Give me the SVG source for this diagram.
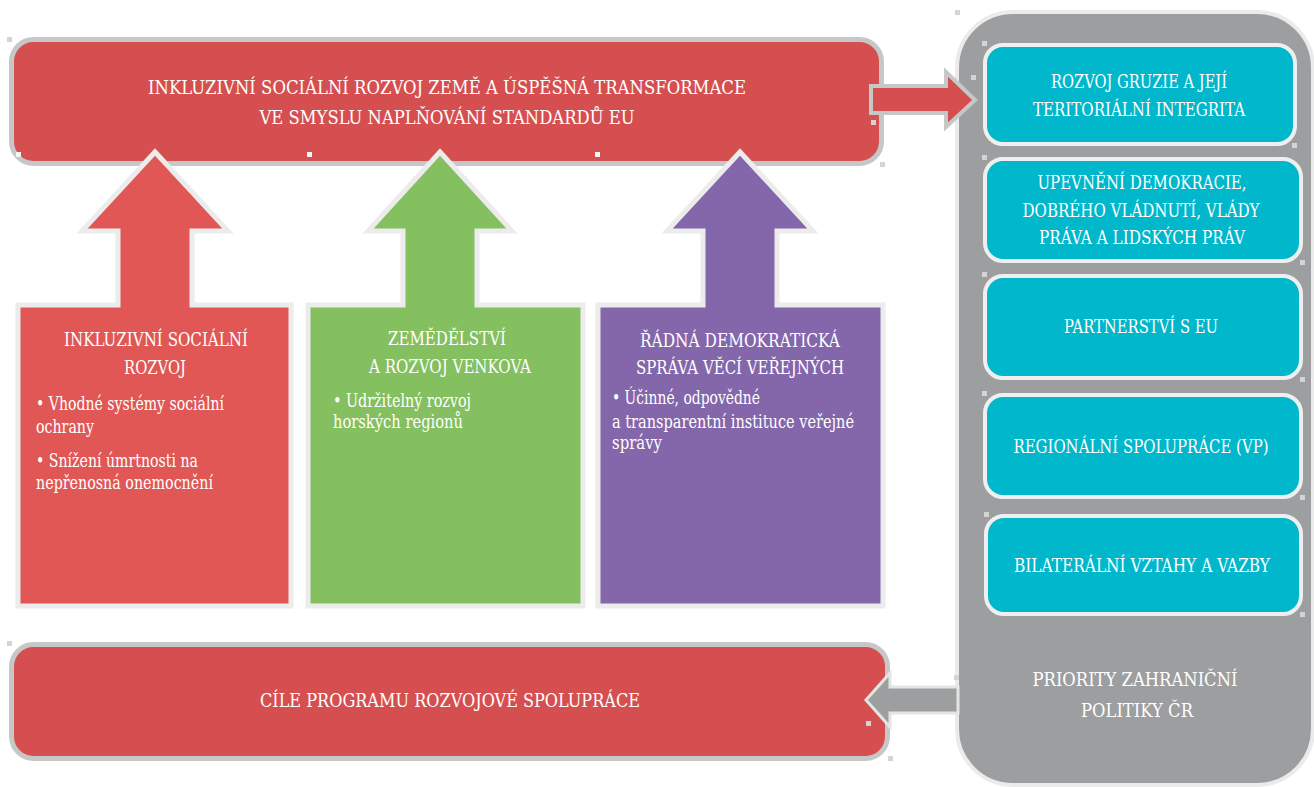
<svg xmlns="http://www.w3.org/2000/svg" width="1314" height="787" viewBox="0 0 1314 787">
<style>
  text { font-family: "DejaVu Serif Condensed", "DejaVu Serif", "Liberation Serif", serif; font-stretch: condensed; fill: #ffffff; font-size: 18.5px; }
  .c { text-anchor: middle; }
  .hdl { fill: #d4d4d4; }
  .hdlw { fill: #f4f4f4; }
  .bigbox { fill: #d64f50; stroke: #c6c7c7; stroke-width: 5; }
  .cyan { fill: #00b7cb; stroke: #efefef; stroke-width: 4; }
  .up { stroke: #ececec; stroke-width: 5; stroke-linejoin: miter; }
</style>
<rect width="1314" height="787" fill="#ffffff"/>

<g id="panel">
  <rect x="957" y="12" width="356" height="773" rx="56" ry="56" fill="#9d9ea0" stroke="#ebebeb" stroke-width="4"/>
  <text class="c" x="1135" y="686" textLength="205" lengthAdjust="spacingAndGlyphs">PRIORITY ZAHRANIČNÍ</text>
  <text class="c" x="1137" y="717" textLength="112" lengthAdjust="spacingAndGlyphs">POLITIKY ČR</text>
</g>

<g id="top-goal">
  <rect class="bigbox" x="11.5" y="39.5" width="870" height="124" rx="22" ry="22"/>
  <text class="c" x="447" y="94" textLength="598" lengthAdjust="spacingAndGlyphs">INKLUZIVNÍ SOCIÁLNÍ ROZVOJ ZEMĚ A ÚSPĚŠNÁ TRANSFORMACE</text>
  <text class="c" x="447" y="124" textLength="375" lengthAdjust="spacingAndGlyphs">VE SMYSLU NAPLŇOVÁNÍ STANDARDŮ EU</text>
</g>

<g id="bottom-goal">
  <rect class="bigbox" x="11.5" y="644.5" width="876" height="114" rx="22" ry="22"/>
  <text class="c" x="450" y="707" textLength="380" lengthAdjust="spacingAndGlyphs">CÍLE PROGRAMU ROZVOJOVÉ SPOLUPRÁCE</text>
</g>

<g id="connectors">
  <polygon points="871,86 946,86 946,72 975,100 946,127 946,113 871,113" fill="#d64f50" stroke="#c6c7c7" stroke-width="4" stroke-linejoin="miter"/>
  <polygon points="958,687 890,687 890,673 866,700 890,727 890,713 958,713" fill="#9d9ea0" stroke="#e3e5e3" stroke-width="3" stroke-linejoin="miter"/>
</g>

<g id="pillar-social">
  <polygon class="up" fill="#e05755" points="18,305 118,305 118,231 82,231 155,152 228,231 192,231 192,305 291,305 291,606 18,606"/>
  <text class="c" x="156" y="346" textLength="184" lengthAdjust="spacingAndGlyphs">INKLUZIVNÍ SOCIÁLNÍ</text>
  <text class="c" x="155" y="374" textLength="62" lengthAdjust="spacingAndGlyphs">ROZVOJ</text>
  <text x="36" y="410" textLength="188" lengthAdjust="spacingAndGlyphs">• Vhodné systémy sociální</text>
  <text x="36" y="433" textLength="58" lengthAdjust="spacingAndGlyphs">ochrany</text>
  <text x="36" y="467" textLength="162" lengthAdjust="spacingAndGlyphs">• Snížení úmrtnosti na</text>
  <text x="36" y="489" textLength="177" lengthAdjust="spacingAndGlyphs">nepřenosná onemocnění</text>
</g>

<g id="pillar-agri">
  <polygon class="up" fill="#84c060" points="308,305 403,305 403,231 368,231 440,152 512,231 477,231 477,305 583,305 583,606 308,606"/>
  <text class="c" x="447" y="345" textLength="118" lengthAdjust="spacingAndGlyphs">ZEMĚDĚLSTVÍ</text>
  <text class="c" x="450" y="373" textLength="162" lengthAdjust="spacingAndGlyphs">A ROZVOJ VENKOVA</text>
  <text x="333" y="407" textLength="138" lengthAdjust="spacingAndGlyphs">• Udržitelný rozvoj</text>
  <text x="333" y="428" textLength="130" lengthAdjust="spacingAndGlyphs">horských regionů</text>
</g>

<g id="pillar-governance">
  <polygon class="up" fill="#8466aa" points="598,305 703,305 703,231 667,231 740,152 813,231 777,231 777,305 883,305 883,606 598,606"/>
  <text class="c" x="740" y="347" textLength="200" lengthAdjust="spacingAndGlyphs">ŘÁDNÁ DEMOKRATICKÁ</text>
  <text class="c" x="740" y="374" textLength="208" lengthAdjust="spacingAndGlyphs">SPRÁVA VĚCÍ VEŘEJNÝCH</text>
  <text x="612" y="404" textLength="148" lengthAdjust="spacingAndGlyphs">• Účinné, odpovědné</text>
  <text x="612" y="428" textLength="242" lengthAdjust="spacingAndGlyphs">a transparentní instituce veřejné</text>
  <text x="612" y="449" textLength="50" lengthAdjust="spacingAndGlyphs">správy</text>
</g>

<g id="priority-1">
  <rect class="cyan" x="985" y="45" width="310" height="99" rx="18" ry="18"/>
  <text class="c" x="1139" y="88" textLength="176" lengthAdjust="spacingAndGlyphs">ROZVOJ GRUZIE A JEJÍ</text>
  <text class="c" x="1139" y="116" textLength="212" lengthAdjust="spacingAndGlyphs">TERITORIÁLNÍ INTEGRITA</text>
</g>
<g id="priority-2">
  <rect class="cyan" x="985" y="159" width="316" height="102" rx="18" ry="18"/>
  <text class="c" x="1142" y="189" textLength="209" lengthAdjust="spacingAndGlyphs">UPEVNĚNÍ DEMOKRACIE,</text>
  <text class="c" x="1141" y="217" textLength="237" lengthAdjust="spacingAndGlyphs">DOBRÉHO VLÁDNUTÍ, VLÁDY</text>
  <text class="c" x="1142" y="244" textLength="206" lengthAdjust="spacingAndGlyphs">PRÁVA A LIDSKÝCH PRÁV</text>
</g>
<g id="priority-3">
  <rect class="cyan" x="985" y="276" width="316" height="102" rx="18" ry="18"/>
  <text class="c" x="1141" y="333" textLength="154" lengthAdjust="spacingAndGlyphs">PARTNERSTVÍ S EU</text>
</g>
<g id="priority-4">
  <rect class="cyan" x="985" y="395" width="316" height="102" rx="18" ry="18"/>
  <text class="c" x="1141" y="453" textLength="255" lengthAdjust="spacingAndGlyphs">REGIONÁLNÍ SPOLUPRÁCE (VP)</text>
</g>
<g id="priority-5">
  <rect class="cyan" x="986" y="516" width="315" height="98" rx="18" ry="18"/>
  <text class="c" x="1142" y="572" textLength="256" lengthAdjust="spacingAndGlyphs">BILATERÁLNÍ VZTAHY A VAZBY</text>
</g>

<g id="handles">
  <rect class="hdl" x="7" y="37" width="5" height="5"/>
  <rect class="hdlw" x="16" y="152" width="5" height="5"/>
  <rect class="hdlw" x="307" y="152" width="5" height="5"/>
  <rect class="hdlw" x="595" y="152" width="5" height="5"/>
  <rect class="hdl" x="880" y="162" width="5" height="5"/>
  <rect class="hdl" x="871" y="120" width="5" height="5"/>
  <rect class="hdl" x="971" y="75" width="5" height="5"/>
  <rect class="hdl" x="955" y="10" width="5" height="5"/>
  <rect class="hdl" x="982" y="41" width="5" height="5"/>
  <rect class="hdl" x="1292" y="143" width="5" height="5"/>
  <rect class="hdl" x="982" y="155" width="5" height="5"/>
  <rect class="hdl" x="1300" y="260" width="5" height="5"/>
  <rect class="hdl" x="982" y="272" width="5" height="5"/>
  <rect class="hdl" x="1300" y="377" width="5" height="5"/>
  <rect class="hdl" x="982" y="391" width="5" height="5"/>
  <rect class="hdl" x="1300" y="495" width="5" height="5"/>
  <rect class="hdl" x="984" y="512" width="5" height="5"/>
  <rect class="hdl" x="1300" y="612" width="5" height="5"/>
  <rect class="hdl" x="7" y="641" width="5" height="5"/>
  <rect class="hdl" x="866" y="721" width="5" height="5"/>
  <rect class="hdl" x="888" y="756" width="5" height="5"/>
  <rect class="hdl" x="954" y="675" width="5" height="5"/>
</g>
</svg>
